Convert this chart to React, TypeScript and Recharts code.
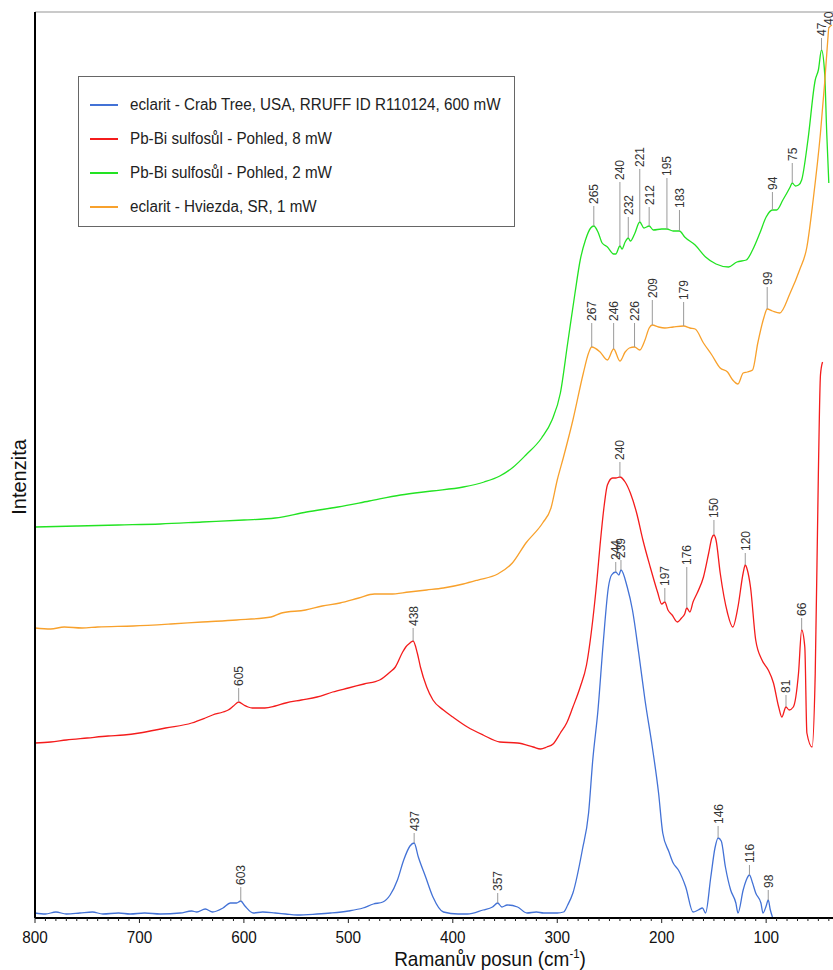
import { ComposedChart, Line, XAxis, YAxis, ReferenceDot, ReferenceLine, Legend } from 'recharts';

const FONT = '"Liberation Sans", Arial, sans-serif';

// Raman shift (cm-1) and intensity (a.u.), listed from high to low shift
const eclaritRruff: [number, number][] = [
  [800, 5], [790, 4], [780, 6], [770, 4], [757, 5], [745, 6], [735, 4], [720, 5], [709, 4], [695, 5],
  [680, 4], [661, 5], [650, 7], [645, 6], [637, 9], [630, 6], [620, 10], [613, 15], [607, 15], [603, 17],
  [599, 12], [591, 5], [582, 6], [570, 5], [560, 4], [549, 3], [530, 4], [517, 5], [500, 7], [486, 10],
  [476, 14], [467, 16], [460, 23], [453, 38], [447, 58], [441, 72], [437, 75], [433, 61], [426, 41], [419, 21],
  [409, 6], [395, 4], [386, 4], [371, 8], [362, 11], [357, 15], [353, 11], [348, 13], [338, 11], [329, 5],
  [320, 6], [313, 5], [300, 5], [294, 6], [290, 13], [285, 25], [276, 68], [270, 105], [266, 158], [261, 208],
  [256, 275], [251, 331], [248, 343], [244, 346], [241, 343], [239, 348], [233, 331], [228, 308], [222, 265], [216, 218],
  [209, 171], [203, 125], [199, 85], [193, 66], [189, 55], [184, 48], [177, 31], [170, 6], [165, 8], [161, 10],
  [158, 5], [153, 41], [149, 70], [146, 80], [143, 77], [139, 51], [134, 28], [129, 15], [127, 5], [122, 28],
  [119, 38], [116, 43], [113, 35], [110, 25], [105, 15], [103, 5], [100, 12], [98, 18], [96, 8], [94, 1],
];

const sulfosalt8: [number, number][] = [
  [800, 175], [785, 176], [770, 178], [750, 180], [730, 182], [715, 183], [700, 185], [675, 190], [650, 195], [637, 200],
  [630, 203], [620, 206], [615, 208], [610, 212], [605, 216], [600, 213], [596, 211], [592, 210], [580, 210], [570, 212],
  [560, 215], [545, 218], [530, 221], [515, 226], [500, 230], [485, 234], [470, 238], [460, 246], [455, 251], [448, 266],
  [445, 271], [441, 275], [438, 277], [434, 265], [431, 251], [425, 231], [419, 218], [409, 208], [400, 201], [386, 191],
  [371, 183], [355, 176], [338, 175], [323, 171], [316, 169], [310, 171], [304, 174], [297, 185], [291, 195], [285, 211],
  [278, 231], [272, 253], [266, 298], [262, 338], [259, 373], [255, 413], [252, 433], [247, 440], [244, 440], [240, 441],
  [235, 436], [230, 425], [224, 405], [218, 378], [211, 351], [204, 326], [200, 314], [197, 316], [194, 308], [190, 303],
  [185, 296], [181, 300], [178, 304], [176, 310], [173, 306], [170, 316], [166, 325], [160, 341], [155, 365], [152, 380],
  [150, 383], [148, 378], [144, 345], [137, 305], [132, 291], [127, 311], [122, 345], [120, 353], [118, 348], [115, 331],
  [110, 278], [104, 258], [98, 248], [93, 235], [88, 211], [85, 201], [81, 211], [78, 208], [74, 211], [69, 245],
  [66, 288], [63, 271], [61, 185], [56, 171], [53, 245], [50, 445], [48, 543], [46, 556],
];

const sulfosalt2: [number, number][] = [
  [800, 391], [760, 392], [720, 393], [680, 394], [640, 396], [600, 398], [570, 400], [540, 406], [510, 411], [480, 417],
  [450, 423], [420, 427], [390, 431], [370, 436], [355, 442], [342, 451], [330, 463], [315, 480], [305, 498], [297, 525],
  [290, 575], [283, 625], [278, 658], [273, 678], [268, 690], [265, 692], [261, 686], [257, 675], [252, 671], [246, 664],
  [244, 664], [240, 672], [238, 669], [235, 676], [232, 680], [230, 677], [226, 684], [221, 696], [217, 690], [212, 692],
  [208, 688], [200, 689], [195, 689], [189, 687], [183, 687], [178, 681], [168, 673], [158, 661], [148, 654], [136, 651],
  [128, 656], [119, 658], [113, 668], [106, 685], [100, 701], [94, 708], [90, 708], [84, 718], [77, 731], [75, 735],
  [72, 732], [69, 733], [66, 738], [60, 778], [53, 838], [50, 848], [47, 868], [44, 845], [42, 785], [40, 735],
];

const eclaritHviezda: [number, number][] = [
  [800, 290], [785, 289], [772, 291], [755, 290], [740, 291], [706, 292], [670, 294], [640, 296], [607, 298], [574, 301],
  [564, 305], [541, 308], [525, 312], [508, 315], [490, 320], [475, 324], [460, 324], [442, 326], [425, 328], [409, 330],
  [390, 334], [376, 338], [357, 344], [343, 355], [330, 375], [314, 395], [306, 410], [300, 438], [294, 461], [285, 498],
  [275, 545], [270, 565], [267, 571], [259, 566], [252, 558], [246, 569], [240, 557], [235, 566], [231, 570], [226, 571],
  [221, 568], [216, 578], [212, 590], [209, 593], [203, 591], [197, 590], [189, 591], [179, 592], [173, 590], [168, 589],
  [160, 575], [152, 563], [144, 550], [137, 546], [132, 538], [127, 534], [122, 545], [118, 546], [113, 548], [108, 575],
  [102, 601], [99, 609], [94, 607], [87, 605], [77, 625], [68, 648], [61, 671], [55, 718], [48, 785], [44, 835],
  [41, 878], [40, 890], [37, 893],
];

// marked band positions
const eclaritRruffPeaks = [603, 437, 357, 244, 239, 146, 116, 98];
const sulfosalt8Peaks = [605, 438, 240, 197, 176, 150, 120, 81, 66];
const sulfosalt2Peaks = [265, 240, 232, 221, 212, 195, 183, 94, 75, 47];
const eclaritHviezdaPeaks = [267, 246, 226, 209, 179, 99, 40];

// leader line length (px) for each marked band, same order as above
const eclaritRruffLeaders = [14, 10, 10, 10, 10, 12, 10, 10];
const sulfosalt8Leaders = [14, 13, 15, 14, 41, 15, 12, 12, 12];
const sulfosalt2Leaders = [20, 64, 21, 53, 19, 51, 21, 18, 20, 12];
const eclaritHviezdaLeaders = [24, 26, 24, 25, 24, 22, 1];

const majorTicks = [800, 700, 600, 500, 400, 300, 200, 100];
const minorTicks: number[] = [];
for (let v = 40; v <= 800; v += 10) minorTicks.push(v);

const series = [
  { name: 'eclarit - Crab Tree, USA, RRUFF ID R110124, 600 mW', color: '#4372d6', rows: eclaritRruff, peaks: eclaritRruffPeaks, leaders: eclaritRruffLeaders },
  { name: 'Pb-Bi sulfosůl - Pohled, 8 mW', color: '#f41c1c', rows: sulfosalt8, peaks: sulfosalt8Peaks, leaders: sulfosalt8Leaders },
  { name: 'Pb-Bi sulfosůl - Pohled, 2 mW', color: '#22e322', rows: sulfosalt2, peaks: sulfosalt2Peaks, leaders: sulfosalt2Leaders },
  { name: 'eclarit - Hviezda, SR, 1 mW', color: '#f8a12c', rows: eclaritHviezda, peaks: eclaritHviezdaPeaks, leaders: eclaritHviezdaLeaders },
];
const seriesOrder = series.map((s) => s.name);

const toPoints = (rows: [number, number][]) => rows.map(([x, y]) => ({ x, y }));
const intensityAt = (rows: [number, number][], x: number) => (rows.find((r) => r[0] === x) || [x, 0])[1];

function ShiftTick({ x, y, payload }: any) {
  const v = payload.value;
  const major = majorTicks.includes(v);
  return (
    <g>
      <line x1={x} x2={x} y1={y} y2={y + (major ? 5 : 3)} stroke="#222" strokeWidth={1} />
      {major && (
        <text transform={`translate(${x},${y + 25}) scale(0.9,1)`} textAnchor="middle" fontSize={17} fontFamily={FONT} fill="#111">
          {v}
        </text>
      )}
    </g>
  );
}

function ShiftTitle({ viewBox }: any) {
  const { x = 35, y = 918 } = viewBox || {};
  return (
    <text transform={`translate(${x + 455},${y + 48}) scale(0.95,1)`} textAnchor="middle" fontSize={20} fontFamily={FONT} fill="#111">
      Ramanův posun (cm<tspan fontSize={12} dy={-8}>-1</tspan><tspan dy={8}>)</tspan>
    </text>
  );
}

function IntensityTitle({ viewBox }: any) {
  const { y = 12, height = 906 } = viewBox || {};
  return (
    <text transform={`translate(26,${y + height / 2 + 12}) rotate(-90)`} textAnchor="middle" fontSize={20} fontFamily={FONT} fill="#111">
      Intenzita
    </text>
  );
}

function PeakTag({ cx, cy, len, text }: any) {
  return (
    <g>
      <line x1={cx} x2={cx} y1={cy} y2={cy - len} stroke="#9a9a9a" strokeWidth={1} />
      <text transform={`translate(${cx + 4.5},${cy - len - 2}) rotate(-90)`} fontSize={12} fontFamily={FONT} fill="#333">
        {text}
      </text>
    </g>
  );
}

function LegendBox({ payload }: any) {
  const items = [...(payload || [])].sort((a: any, b: any) => seriesOrder.indexOf(a.value) - seriesOrder.indexOf(b.value));
  return (
    <div style={{ width: 437, height: 151, boxSizing: 'border-box', border: '1px solid #666', background: '#fff', paddingTop: 11, fontFamily: FONT }}>
      {items.map((item: any) => (
        <div key={item.value} style={{ height: 34, display: 'flex', alignItems: 'center' }}>
          <span style={{ display: 'inline-block', flexShrink: 0, width: 28, height: 2, background: item.color, marginLeft: 11, marginRight: 12 }} />
          <span style={{ display: 'inline-block', flexShrink: 0, fontSize: 16, color: '#222', whiteSpace: 'nowrap', transform: 'scaleX(0.95)', transformOrigin: 'left center' }}>
            {item.value}
          </span>
        </div>
      ))}
    </div>
  );
}

export default function App() {
  return (
    <div style={{ position: 'absolute', left: 0, top: 0, width: 833, height: 970 }}>
      <ComposedChart width={833} height={970} margin={{ top: 12, right: 0, bottom: 0, left: 0 }}>
        <XAxis
          type="number"
          dataKey="x"
          domain={[36, 800]}
          reversed
          allowDataOverflow
          ticks={minorTicks}
          interval={0}
          height={52}
          tickSize={0}
          tickMargin={0}
          tickLine={false}
          axisLine={{ stroke: '#000', strokeWidth: 2 }}
          tick={<ShiftTick />}
          label={<ShiftTitle />}
        />
        <YAxis
          type="number"
          domain={[0, 906]}
          allowDataOverflow
          width={35}
          tick={false}
          tickLine={false}
          axisLine={{ stroke: '#000', strokeWidth: 2 }}
          label={<IntensityTitle />}
        />
        <ReferenceLine y={906} stroke="#b8b8b8" strokeWidth={1.5} />
        {series.map((s) => (
          <Line
            key={s.name}
            name={s.name}
            data={toPoints(s.rows)}
            dataKey="y"
            type="monotone"
            stroke={s.color}
            strokeWidth={1.3}
            dot={false}
            isAnimationActive={false}
          />
        ))}
        {series.map((s) =>
          s.peaks.map((p, i) => (
            <ReferenceDot
              key={`${s.name}-${p}`}
              x={p}
              y={intensityAt(s.rows, p)}
              r={0}
              ifOverflow="visible"
              shape={(props: any) => <PeakTag cx={props.cx} cy={props.cy} len={s.leaders[i]} text={String(p)} />}
            />
          ))
        )}
        <Legend
          layout="vertical"
          align="center"
          verticalAlign="middle"
          wrapperStyle={{ left: 78, top: 76, width: 437 }}
          content={<LegendBox />}
        />
      </ComposedChart>
    </div>
  );
}
